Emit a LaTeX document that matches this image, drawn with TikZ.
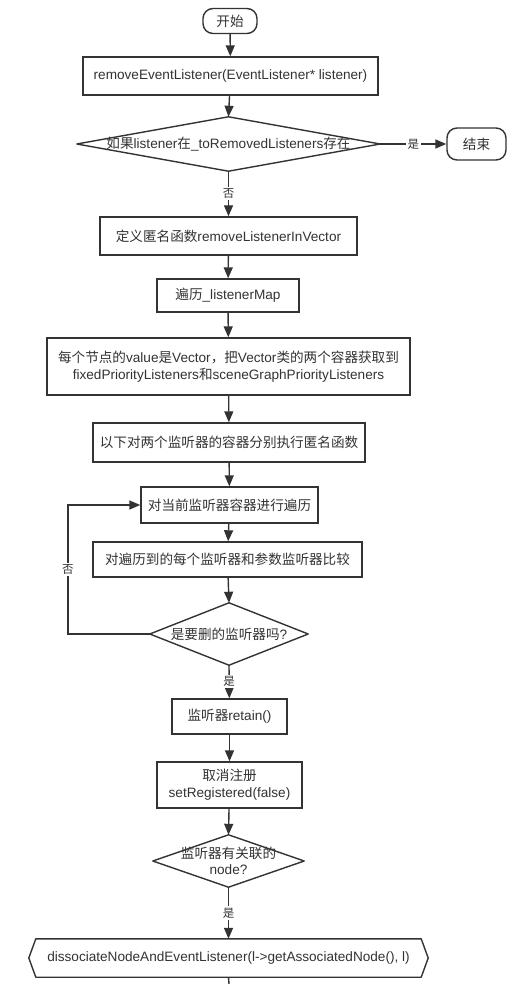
\documentclass[tikz,border=0pt]{standalone}
\usepackage{fontspec}
\setmainfont{Liberation Sans}
\newfontfamily\cjk{Noto Sans CJK SC}
\usetikzlibrary{arrows.meta}
\definecolor{ink}{HTML}{333333}
\begin{document}
\begin{tikzpicture}[x=1pt,y=-1pt,
  every node/.style={font=\fontsize{13.6}{17.5}\selectfont, text=ink},
  procbox/.style={draw=ink, line width=1.4pt, inner sep=0pt, align=center},
  termbox/.style={procbox, rounded corners=10pt},
  holder/.style={inner sep=0pt, align=center},
  outline/.style={draw=ink, line width=1.4pt, line join=round},
  flow/.style={draw=ink, line width=1.4pt, -{Triangle[length=11pt,width=9pt]}},
  plain/.style={draw=ink, line width=1.4pt},
  lbl/.style={font=\fontsize{11.5}{13}\selectfont, fill=white, inner sep=1.5pt}]
\useasboundingbox[fill=white] (0,0) rectangle (512,984);

\node[termbox, minimum width=54pt, minimum height=25pt] (start) at (230,21) {\cjk 开始};
\node[procbox, minimum width=295pt, minimum height=38pt] (remove) at (230.5,76) {removeEventListener(EventListener* listener)};
\node[holder, minimum width=303pt, minimum height=54pt] (d1) at (228.5,144) {{\cjk 如果}listener{\cjk 在}\_toRemovedListeners{\cjk 存在}};
\draw[outline] (d1.north) -- (d1.east) -- (d1.south) -- (d1.west) -- cycle;
\node[termbox, minimum width=59pt, minimum height=32pt] (end) at (476.5,144) {\cjk 结束};
\node[procbox, minimum width=257pt, minimum height=38pt] (def) at (228.5,236) {{\cjk 定义匿名函数}removeListenerInVector};
\node[procbox, minimum width=142pt, minimum height=33pt] (trav) at (228,295.5) {{\cjk 遍历}\_listenerMap};
\node[procbox, minimum width=363pt, minimum height=57pt] (each) at (228.5,366.5) {{\cjk 每个节点的}value{\cjk 是}Vector{\cjk ，把}Vector{\cjk 类的两个容器获取到}\\fixedPriorityListeners{\cjk 和}sceneGraphPriorityListeners};
\node[procbox, minimum width=272pt, minimum height=39pt] (follow) at (229,442.5) {\cjk 以下对两个监听器的容器分别执行匿名函数};
\node[procbox, minimum width=177pt, minimum height=36pt] (cur) at (229.5,505) {\cjk 对当前监听器容器进行遍历};
\node[procbox, minimum width=269pt, minimum height=35pt] (cmp) at (227.5,559.5) {\cjk 对遍历到的每个监听器和参数监听器比较};
\node[holder, minimum width=158pt, minimum height=62pt] (d2) at (229,634) {{\cjk 是要删的监听器吗}?};
\draw[outline] (d2.north) -- (d2.east) -- (d2.south) -- (d2.west) -- cycle;
\node[procbox, minimum width=115pt, minimum height=35pt] (retain) at (229.5,716.5) {{\cjk 监听器}retain()};
\node[procbox, minimum width=145pt, minimum height=46pt, font=\fontsize{13.6}{17}\selectfont] (unreg) at (229.5,785) {{\cjk 取消注册}\\setRegistered(false)};
\node[holder, minimum width=151pt, minimum height=52pt, font=\fontsize{13.6}{16}\selectfont] (d3) at (228.5,861) {{\cjk 监听器有关联的}\\node?};
\draw[outline] (d3.north) -- (d3.east) -- (d3.south) -- (d3.west) -- cycle;
\node[holder, minimum width=399pt, minimum height=38pt] (hex) at (228.5,958) {dissociateNodeAndEventListener(l-{}>getAssociatedNode(), l)};
\draw[outline] (hex.west) -- ([xshift=7pt]hex.north west) -- ([xshift=-7pt]hex.north east) -- (hex.east) -- ([xshift=-7pt]hex.south east) -- ([xshift=7pt]hex.south west) -- cycle;
\coordinate (bottom) at (229,984);

\draw[flow] (start) -- (remove);
\draw[flow] (remove) -- (d1.north);
\draw[flow] (d1.east) -- node[lbl] {\cjk 是} (end);
\draw[flow] (d1.south) -- node[lbl] {\cjk 否} (def);
\draw[flow] (def) -- (trav);
\draw[flow] (trav) -- (each);
\draw[flow] (each) -- (follow);
\draw[flow] (follow) -- (cur);
\draw[flow] (cur) -- (cmp);
\draw[flow] (cmp) -- (d2.north);
\draw[flow] (d2.west) -- ++(-82,0) |- node[lbl, pos=0.25] {\cjk 否} (cur.west);
\draw[flow] (d2.south) -- node[lbl] {\cjk 是} (retain);
\draw[flow] (retain) -- (unreg);
\draw[flow] (unreg) -- (d3.north);
\draw[flow] (d3.south) -- node[lbl] {\cjk 是} (hex.north);
\draw[plain] (hex.south) -- (bottom);
\end{tikzpicture}
\end{document}
